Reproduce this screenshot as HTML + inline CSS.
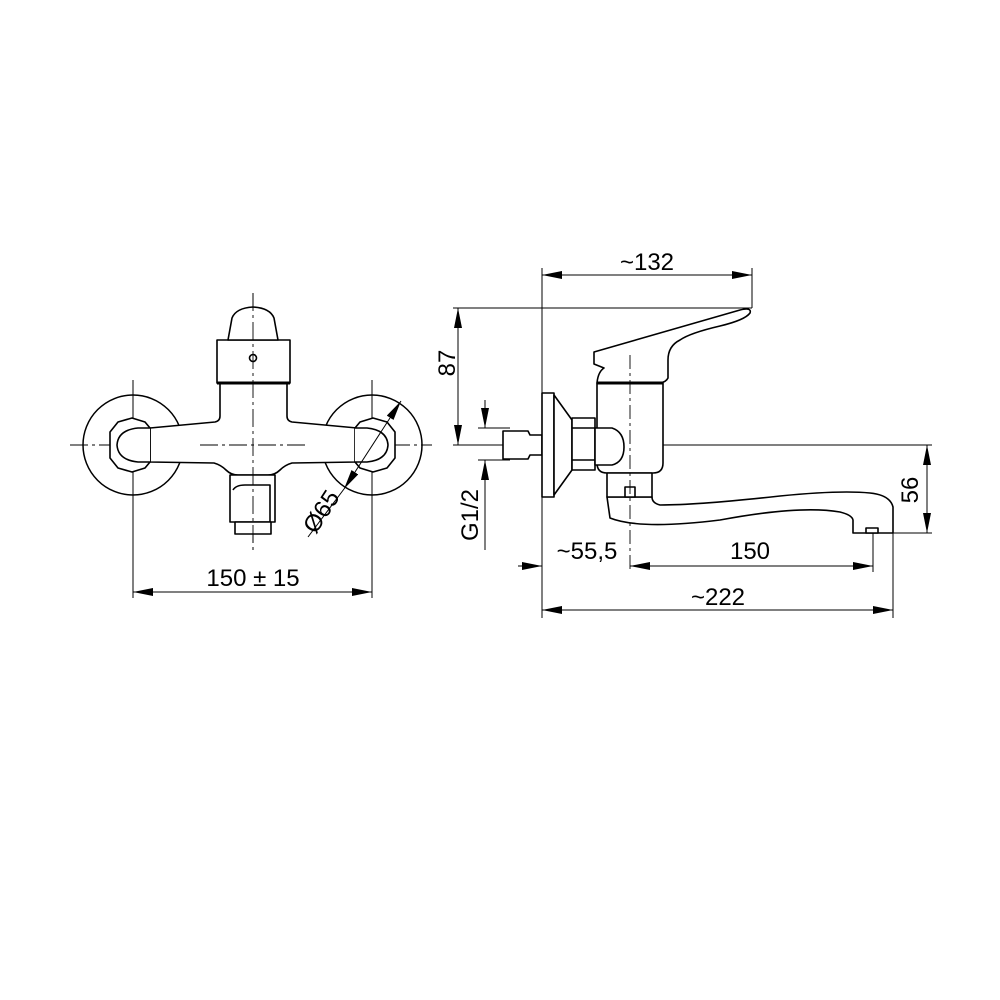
<!DOCTYPE html>
<html><head><style>html,body{margin:0;padding:0;background:#fff}svg{display:block}
text{font-family:"Liberation Sans",Arial,sans-serif;font-size:24px;fill:#000}</style></head>
<body>
<svg width="1000" height="1000" viewBox="0 0 1000 1000" xmlns="http://www.w3.org/2000/svg">
<defs>
<marker id="a" viewBox="0 0 20 8" refX="20" refY="4" markerWidth="20" markerHeight="8" markerUnits="userSpaceOnUse" orient="auto-start-reverse"><path d="M0,0 L20,4 L0,8 Z" fill="#000"/></marker>
</defs>
<g fill="none" stroke="#000" stroke-width="1">
<g stroke-dasharray="18,4,3,4" stroke-width="0.9">
<line x1="70" y1="445" x2="200" y2="445"/><line x1="305" y1="445" x2="432" y2="445"/>
<line x1="253" y1="293" x2="253" y2="552"/>
</g>
<line x1="133" y1="380" x2="133" y2="598"/>
<line x1="372" y1="380" x2="372" y2="598"/>
<circle cx="133" cy="445" r="50" stroke-width="1.5"/>
<circle cx="372" cy="445" r="50" stroke-width="1.5"/>
</g>
<g fill="#fff" stroke="#000" stroke-width="1.6" stroke-linejoin="round">
<path d="M150,428 L215,422 Q220,421 220,416 L220,383 L287,383 L287,416 Q287,421 292,422 L357,428 L357,462 L292,463 Q285,465 280,470 Q275,475 268,475 L238,475 Q231,475 226,470 Q221,465 214,463 L150,462 Z"/>
<path d="M132,418 L145,422 L150,428 L150,462 L145,468 L132,472 L118,468 L110,458 L110,432 L118,422 Z"/>
<path d="M150,428 L138,428 Q118,430 117,445 Q118,460 138,462 L150,462"/>
<path d="M373,418 L360,422 L355,428 L355,462 L360,468 L373,472 L387,468 L395,458 L395,432 L387,422 Z"/>
<path d="M355,428 L367,428 Q387,430 388,445 Q387,460 367,462 L355,462"/>
<rect x="217" y="340" width="73" height="43"/>
<path d="M228,340 L232,318 Q236,308 253,307 Q270,308 274,318 L278,340 Z"/>
<line x1="217" y1="383" x2="290" y2="383" stroke-width="3"/>
<circle cx="253" cy="358" r="3.5"/>
<rect x="230" y="475" width="45" height="47"/>
<path d="M233,490 Q236,485 245,485 L270,485 L270,522"/>
<rect x="235" y="522" width="36" height="12"/>
</g>
<g stroke="#000" stroke-width="1" fill="none">
<line x1="253" y1="293" x2="253" y2="552" stroke-dasharray="18,4,3,4" stroke-width="0.9"/>
<line x1="200" y1="445" x2="305" y2="445" stroke-dasharray="18,4,3,4" stroke-width="0.9"/>
<line x1="133" y1="592" x2="372" y2="592" marker-start="url(#a)" marker-end="url(#a)"/>
<line x1="344" y1="489" x2="401" y2="401" marker-start="url(#a)" marker-end="url(#a)"/>
<line x1="308" y1="537" x2="344" y2="489"/>
</g>
<text x="253" y="586" text-anchor="middle">150 ± 15</text>
<text transform="translate(328,516) rotate(-57)" text-anchor="middle">Ø65</text>

<g stroke="#000" stroke-width="1" fill="none">
<line x1="542" y1="268" x2="542" y2="618"/>
<line x1="752" y1="268" x2="752" y2="308"/>
<line x1="542" y1="275" x2="752" y2="275" marker-start="url(#a)" marker-end="url(#a)"/>
<line x1="453" y1="308" x2="752" y2="308"/>
<line x1="458" y1="308" x2="458" y2="445" marker-start="url(#a)" marker-end="url(#a)"/>
<line x1="453" y1="445" x2="932" y2="445"/>
<line x1="478" y1="428" x2="510" y2="428"/>
<line x1="478" y1="460" x2="510" y2="460"/>
<line x1="485" y1="400" x2="485" y2="428" marker-end="url(#a)"/>
<line x1="485" y1="490" x2="485" y2="460" marker-end="url(#a)"/>
<line x1="485" y1="490" x2="485" y2="550"/>
<line x1="893" y1="533" x2="932" y2="533"/>
<line x1="927" y1="445" x2="927" y2="533" marker-start="url(#a)" marker-end="url(#a)"/>
<line x1="518" y1="566" x2="542" y2="566" marker-end="url(#a)"/>
<line x1="630" y1="566" x2="873" y2="566" marker-start="url(#a)" marker-end="url(#a)"/>
<line x1="873" y1="505" x2="873" y2="572"/>
<line x1="893" y1="533" x2="893" y2="618"/>
<line x1="542" y1="610" x2="893" y2="610" marker-start="url(#a)" marker-end="url(#a)"/>
</g>
<g fill="#fff" stroke="#000" stroke-width="1.6" stroke-linejoin="round">
<path d="M503,431 L528,431 L530,435 L542,435 L542,455 L530,455 L528,459 L503,459 Z"/>
<rect x="542" y="393" width="12" height="104"/>
<path d="M554,395 L572,420 L572,470 L554,495 Z"/>
<rect x="572" y="418" width="23" height="52"/>
<line x1="572" y1="428" x2="595" y2="428"/><line x1="572" y1="460" x2="595" y2="460"/>
<path d="M607,497 L610,518 Q640,530 720,520 Q800,505 840,512 Q852,515 853,520 L853,533 L893,533 L893,507 Q890,495 870,493 Q840,490 780,496 Q700,505 660,505 Q652,503 652,497 Z"/>
<rect x="866" y="528" width="12" height="5"/>
<path d="M597,383 L663,383 L663,463 Q663,473 653,473 L607,473 Q597,473 597,463 Z"/>
<path d="M595,428 L612,428 Q624,432 624,447 Q624,462 612,465 L595,465 Z"/>
<rect x="607" y="473" width="45" height="24"/>
<rect x="625" y="487" width="10" height="10"/>
<path d="M597,383 Q598,372 604,368 L594,364 L594,352 L740,310 Q752,307 750,313 Q745,320 720,326 Q690,333 680,340 Q668,346 668,360 L668,378 Q666,382 660,383 Z"/>
<line x1="597" y1="383" x2="663" y2="383" stroke-width="3"/>
</g>
<line x1="630" y1="355" x2="630" y2="572" stroke="#000" stroke-width="0.9" stroke-dasharray="14,4,3,4"/>
<text x="647" y="270" text-anchor="middle">~132</text>
<text transform="translate(455,363) rotate(-90)" text-anchor="middle">87</text>
<text transform="translate(478,515) rotate(-90)" text-anchor="middle">G1/2</text>
<text transform="translate(918,490) rotate(-90)" text-anchor="middle">56</text>
<text x="587" y="559" text-anchor="middle">~55,5</text>
<text x="750" y="559" text-anchor="middle">150</text>
<text x="718" y="605" text-anchor="middle">~222</text>
</svg>
</body></html>
